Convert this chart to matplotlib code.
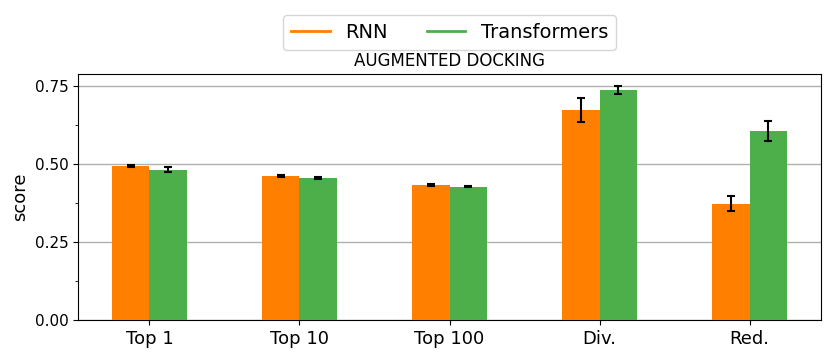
import numpy as np
import matplotlib.pyplot as plt
from matplotlib.lines import Line2D
from matplotlib.ticker import MultipleLocator

categories = ["Top 1", "Top 10", "Top 100", "Div.", "Red."]
rnn_mean = [0.494, 0.461, 0.433, 0.673, 0.372]
rnn_err = [0.004, 0.004, 0.004, 0.037, 0.024]
trf_mean = [0.481, 0.456, 0.427, 0.737, 0.606]
trf_err = [0.008, 0.003, 0.002, 0.012, 0.032]

ORANGE = "#ff7f00"
GREEN = "#4daf4a"

fig = plt.figure(figsize=(8.31, 3.6), dpi=100)
ax = fig.add_axes([0.094, 0.111, 0.894, 0.683])

x = np.arange(len(categories))
w = 0.25
ax.bar(x - w / 2, rnn_mean, w, color=ORANGE, yerr=rnn_err, capsize=3,
       error_kw=dict(ecolor="black", elinewidth=1.5, capthick=1.5), zorder=3)
ax.bar(x + w / 2, trf_mean, w, color=GREEN, yerr=trf_err, capsize=3,
       error_kw=dict(ecolor="black", elinewidth=1.5, capthick=1.5), zorder=3)

ax.set_xticks(x)
ax.set_xticklabels(categories, fontsize=13)
ax.set_ylim(0, 0.788)
ax.yaxis.set_major_locator(MultipleLocator(0.25))
ax.yaxis.set_minor_locator(MultipleLocator(0.125))
ax.tick_params(axis="y", labelsize=11)
ax.grid(axis="y", which="major", color="#b0b0b0", linewidth=1, zorder=0)
ax.set_axisbelow(True)
ax.set_ylabel("score", fontsize=13)
ax.set_title("AUGMENTED DOCKING", fontsize=12)

handles = [Line2D([], [], color=ORANGE, linewidth=2),
           Line2D([], [], color=GREEN, linewidth=2)]
fig.legend(handles, ["RNN", "Transformers"], loc="upper center",
           bbox_to_anchor=(0.541, 0.985), ncol=2, fontsize=14, frameon=True)

fig.savefig("out.png", dpi=100)
